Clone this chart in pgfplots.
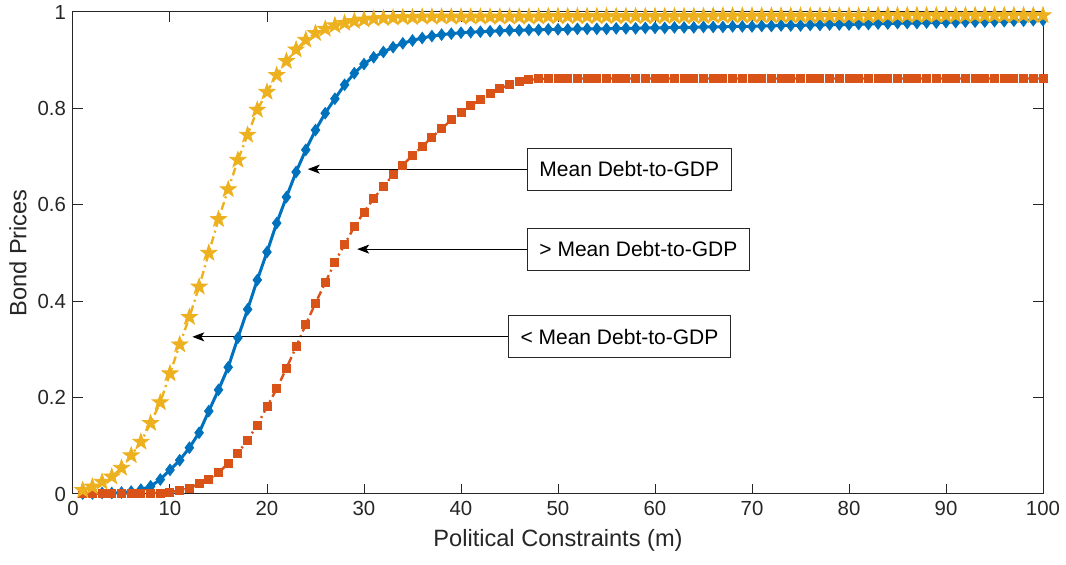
\documentclass[border=0pt]{standalone}
\usepackage{fontspec}
\setmainfont{Liberation Sans}
\usepackage{pgfplots}
\usepackage{pgfplotstable}
\pgfplotsset{compat=1.18}
\usetikzlibrary{arrows.meta}
\definecolor{mblue}{HTML}{0072BD}
\definecolor{mred}{HTML}{D95319}
\definecolor{myel}{HTML}{EDB120}
\definecolor{axgray}{HTML}{262626}

\pgfdeclareplotmark{pstar}{%
  \pgfpathmoveto{\pgfpointpolar{90}{\pgfplotmarksize}}%
  \pgfpathlineto{\pgfpointpolar{126}{0.4\pgfplotmarksize}}%
  \pgfpathlineto{\pgfpointpolar{162}{\pgfplotmarksize}}%
  \pgfpathlineto{\pgfpointpolar{198}{0.4\pgfplotmarksize}}%
  \pgfpathlineto{\pgfpointpolar{234}{\pgfplotmarksize}}%
  \pgfpathlineto{\pgfpointpolar{270}{0.4\pgfplotmarksize}}%
  \pgfpathlineto{\pgfpointpolar{306}{\pgfplotmarksize}}%
  \pgfpathlineto{\pgfpointpolar{342}{0.4\pgfplotmarksize}}%
  \pgfpathlineto{\pgfpointpolar{18}{\pgfplotmarksize}}%
  \pgfpathlineto{\pgfpointpolar{54}{0.4\pgfplotmarksize}}%
  \pgfpathclose
  \pgfusepathqfillstroke}

\pgfplotstableread{
m B R Y
1 0.001 0.000 0.008
2 0.001 0.000 0.015
3 0.002 0.000 0.025
4 0.002 0.000 0.036
5 0.003 0.000 0.054
6 0.005 0.001 0.080
7 0.009 0.001 0.108
8 0.016 0.002 0.147
9 0.030 0.002 0.190
10 0.050 0.004 0.250
11 0.070 0.007 0.310
12 0.096 0.012 0.367
13 0.127 0.021 0.430
14 0.172 0.031 0.500
15 0.216 0.044 0.570
16 0.263 0.064 0.632
17 0.324 0.085 0.693
18 0.383 0.112 0.745
19 0.444 0.143 0.797
20 0.502 0.181 0.834
21 0.562 0.218 0.869
22 0.616 0.261 0.898
23 0.668 0.305 0.922
24 0.714 0.352 0.942
25 0.755 0.396 0.956
26 0.790 0.438 0.965
27 0.820 0.481 0.972
28 0.849 0.518 0.977
29 0.873 0.554 0.981
30 0.892 0.585 0.984
31 0.906 0.613 0.986
32 0.917 0.638 0.987
33 0.927 0.662 0.988
34 0.935 0.682 0.989
35 0.941 0.703 0.989
36 0.946 0.721 0.990
37 0.950 0.740 0.990
38 0.953 0.758 0.990
39 0.955 0.776 0.990
40 0.957 0.792 0.990
41 0.958 0.806 0.990
42 0.959 0.818 0.990
43 0.960 0.830 0.990
44 0.961 0.841 0.990
45 0.962 0.849 0.990
46 0.962 0.855 0.990
47 0.963 0.859 0.990
48 0.963 0.861 0.990
49 0.964 0.862 0.991
50 0.964 0.862 0.991
51 0.964 0.862 0.991
52 0.965 0.862 0.991
53 0.965 0.862 0.991
54 0.965 0.862 0.991
55 0.965 0.862 0.991
56 0.966 0.862 0.991
57 0.966 0.862 0.991
58 0.966 0.862 0.991
59 0.967 0.862 0.991
60 0.967 0.862 0.991
61 0.967 0.862 0.991
62 0.968 0.862 0.991
63 0.968 0.862 0.991
64 0.968 0.862 0.991
65 0.969 0.862 0.991
66 0.969 0.862 0.992
67 0.969 0.862 0.992
68 0.970 0.862 0.992
69 0.970 0.862 0.992
70 0.970 0.862 0.992
71 0.971 0.862 0.992
72 0.971 0.862 0.992
73 0.972 0.862 0.992
74 0.972 0.862 0.992
75 0.972 0.862 0.992
76 0.973 0.862 0.992
77 0.973 0.862 0.992
78 0.974 0.862 0.992
79 0.974 0.862 0.992
80 0.974 0.862 0.992
81 0.975 0.862 0.992
82 0.975 0.862 0.992
83 0.976 0.862 0.993
84 0.976 0.862 0.993
85 0.977 0.862 0.993
86 0.977 0.862 0.993
87 0.977 0.862 0.993
88 0.978 0.862 0.993
89 0.978 0.862 0.993
90 0.979 0.862 0.993
91 0.979 0.862 0.993
92 0.980 0.862 0.993
93 0.980 0.862 0.993
94 0.980 0.862 0.993
95 0.981 0.862 0.993
96 0.981 0.862 0.993
97 0.982 0.862 0.993
98 0.982 0.862 0.993
99 0.983 0.862 0.993
100 0.983 0.862 0.993
}\bonddata

\begin{document}
\begin{tikzpicture}
\path[use as bounding box] (-36.5pt,-35.5pt) rectangle (496.5pt,247pt);
\begin{axis}[
  at={(0,0)}, anchor=south west,
  scale only axis, width=485pt, height=241pt,
  xmin=0, xmax=100, ymin=0, ymax=1,
  xtick={0,10,...,100},
  ytick={0,0.2,0.4,0.6,0.8,1},
  yticklabels={0,0.2,0.4,0.6,0.8,1},
  tick align=inside,
  major tick length=5pt,
  axis line style={axgray, line width=0.5pt},
  tick style={axgray, line width=0.5pt},
  ticklabel style={font=\fontsize{10.2}{12}\selectfont, text=axgray},
  /pgf/number format/assume math mode=true,
  xlabel={Political Constraints (m)},
  ylabel={Bond Prices},
  label style={font=\fontsize{11.8}{13}\selectfont, text=axgray},
  xlabel style={at={([yshift=-23pt]axis description cs:0.5,0)}, anchor=center},
  ylabel style={at={([xshift=-27.5pt]axis description cs:0,0.5)}, anchor=center},
  clip=false,
]
\addplot[mblue, line width=1.5pt, mark=diamond*, mark size=2.8pt, mark options={solid, fill=mblue, line width=0.5pt}]
  table[x=m, y=B] {\bonddata};
\addplot[mred, line width=1.2pt, dash pattern=on 4pt off 2pt on 1pt off 2pt, mark=square*, mark size=2pt, mark options={solid, fill=mred, line width=0.5pt}]
  table[x=m, y=R] {\bonddata};
\addplot[myel, line width=1.2pt, dash pattern=on 4pt off 2pt on 1pt off 2pt, mark=pstar, mark size=4.2pt, mark options={solid, fill=myel, line width=0.4pt}]
  table[x=m, y=Y] {\bonddata};

\draw[-{Stealth[length=6pt,width=4.5pt,inset=1.5pt]}, black, line width=0.5pt]
  (axis cs:46.8,0.674) -- (axis cs:24.2,0.674);
\draw[-{Stealth[length=6pt,width=4.5pt,inset=1.5pt]}, black, line width=0.5pt]
  (axis cs:46.8,0.508) -- (axis cs:29.3,0.508);
\draw[-{Stealth[length=6pt,width=4.5pt,inset=1.5pt]}, black, line width=0.5pt]
  (axis cs:44.85,0.326) -- (axis cs:12.3,0.326);
\node[draw=axgray, fill=white, anchor=west, inner xsep=6pt, minimum height=21pt, line width=0.5pt, font=\fontsize{10.5}{12}\selectfont]
  at (axis cs:46.8,0.674) {Mean Debt-to-GDP};
\node[draw=axgray, fill=white, anchor=west, inner xsep=6pt, minimum height=21pt, line width=0.5pt, font=\fontsize{10.5}{12}\selectfont]
  at (axis cs:46.8,0.508) {> Mean Debt-to-GDP};
\node[draw=axgray, fill=white, anchor=west, inner xsep=6pt, minimum height=21pt, line width=0.5pt, font=\fontsize{10.5}{12}\selectfont]
  at (axis cs:44.85,0.326) {< Mean Debt-to-GDP};
\end{axis}
\end{tikzpicture}
\end{document}
